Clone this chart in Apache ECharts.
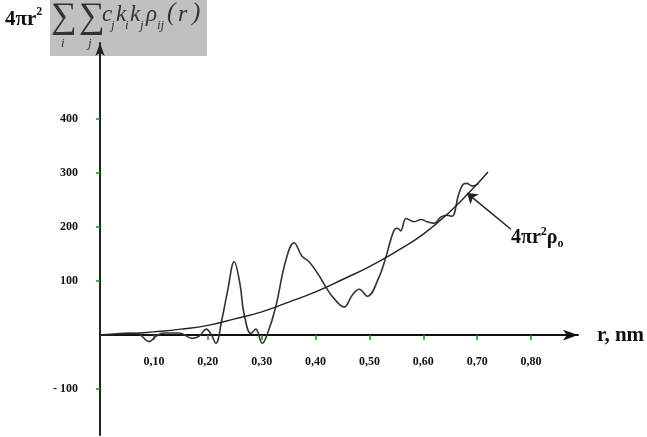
<!DOCTYPE html>
<html><head><meta charset="utf-8">
<script src="https://cdn.jsdelivr.net/npm/echarts@6/dist/echarts.min.js"></script>
<style>html,body{margin:0;padding:0;background:#fff}#c{width:647px;height:437px}</style>
</head><body><div id="c"></div>
<script>
// r, nm (x) and value (y) of the smooth 4πr²ρo curve
const rhoR = [0, 0.05, 0.10, 0.15, 0.20, 0.25, 0.30, 0.35, 0.40, 0.45, 0.50, 0.55, 0.60, 0.65, 0.70, 0.72];
const rhoV = [0, 2, 6, 11, 18, 30, 43, 61, 80, 103, 127, 155, 187, 229, 280, 302];
// r and value of the oscillating curve
const gR = [0, 0.026, 0.054, 0.072, 0.091, 0.104, 0.119, 0.147, 0.171, 0.184, 0.197, 0.206, 0.215, 0.226, 0.237, 0.249, 0.260, 0.267, 0.280, 0.289, 0.301, 0.313, 0.326, 0.345, 0.360, 0.375, 0.388, 0.406, 0.419, 0.434, 0.453, 0.468, 0.481, 0.496, 0.518, 0.530, 0.545, 0.552, 0.558, 0.568, 0.583, 0.596, 0.607, 0.620, 0.633, 0.644, 0.653, 0.666, 0.675, 0.681, 0.691, 0.703];
const gV = [0, 2, 4, 2, -12, -2, 4, 4, -6, -2, 11, 2, -15, 28, 83, 136, 93, 41, 3, 11, -15, 9, 52, 139, 171, 146, 136, 111, 89, 68, 52, 74, 85, 72, 108, 143, 193, 198, 193, 216, 210, 214, 210, 207, 219, 222, 220, 262, 280, 281, 276, 281];
// tick values
const xTicks = [0.1, 0.2, 0.3, 0.4, 0.5, 0.6, 0.7, 0.8];
const yTicks = [-100, 100, 200, 300, 400];
// annotation arrow (data coordinates): from label to curve
const arrowFrom = [0.7625, 196];
const arrowTo = [0.681, 263];

const serif = '"Liberation Serif", "Times New Roman", serif';
const green = '#08a008';
const Y_MIN = -185, Y_MAX = 541, GRID_TOP = 43, GRID_BOTTOM = 2, H = 437;
const plotH = H - GRID_TOP - GRID_BOTTOM;
// move the x axis from the grid bottom up to the value 0
const xOffset = -plotH * (0 - Y_MIN) / (Y_MAX - Y_MIN);

const chart = echarts.init(document.getElementById('c'));
const it = (t, x, y, size) => ({type: 'text', x, y, style: {text: t, font: 'italic ' + size + 'px ' + serif, fill: '#333'}});
chart.setOption({
  animation: false,
  grid: {left: 100, right: 69, top: GRID_TOP, bottom: GRID_BOTTOM, containLabel: false, outerBoundsMode: 'none'},
  xAxis: {
    type: 'value', min: 0, max: 0.887, position: 'bottom', offset: xOffset,
    axisLine: {onZero: false, symbol: ['none', 'arrow'], symbolSize: [8, 15], lineStyle: {color: '#111', width: 2}},
    axisTick: {customValues: xTicks, length: 5, lineStyle: {color: green, width: 1.5}},
    axisLabel: {customValues: xTicks, margin: 21, fontFamily: serif, fontWeight: 'bold', fontSize: 12, color: '#111',
      formatter: v => v.toFixed(2).replace('.', ',')},
    splitLine: {show: false},
    name: 'r, nm', nameLocation: 'end', nameGap: 19,
    nameTextStyle: {fontFamily: serif, fontWeight: 'bold', fontSize: 21, color: '#111', verticalAlign: 'middle'}
  },
  yAxis: {
    type: 'value', min: Y_MIN, max: Y_MAX,
    axisLine: {show: true, onZero: false, symbol: ['none', 'arrow'], symbolSize: [7, 13], lineStyle: {color: '#222', width: 2}},
    axisTick: {show: true, customValues: yTicks, length: 4, lineStyle: {color: green, width: 1.5}},
    axisLabel: {customValues: yTicks, margin: 22, fontFamily: serif, fontWeight: 'bold', fontSize: 12, color: '#111',
      formatter: v => v < 0 ? '- ' + Math.abs(v) : String(v)},
    splitLine: {show: false}
  },
  series: [
    {type: 'line', data: gR.map((r, i) => [r, gV[i]]), showSymbol: false, smooth: 0.4,
      lineStyle: {color: '#333', width: 1.6}},
    {type: 'line', data: rhoR.map((r, i) => [r, rhoV[i]]), showSymbol: false, smooth: true,
      lineStyle: {color: '#222', width: 1.4},
      markLine: {silent: true, symbol: ['none', 'arrow'], symbolSize: 10, label: {show: false},
        lineStyle: {color: '#222', width: 1.5, type: 'solid'},
        data: [[{coord: arrowFrom}, {coord: arrowTo}]]}}
  ],
  graphic: [
    {type: 'rect', z: -10, shape: {x: 50, y: 0, width: 157, height: 56}, style: {fill: '#c0c0c0'}},
    {type: 'text', x: 5, y: 6, style: {
      text: '{m|4πr}{p|2}',
      rich: {
        m: {fontFamily: serif, fontWeight: 'bold', fontSize: 21, lineHeight: 24, verticalAlign: 'bottom', fill: '#111'},
        p: {fontFamily: serif, fontWeight: 'bold', fontSize: 12, lineHeight: 24, verticalAlign: 'top', fill: '#111'}
      }}},
    {type: 'text', x: 51, y: 0, style: {text: '∑', font: '36px ' + serif, fill: '#333'}},
    {type: 'text', x: 79, y: 0, style: {text: '∑', font: '36px ' + serif, fill: '#333'}},
    it('i', 61, 37, 13), it('j', 88, 37, 13),
    it('c', 102, 3, 23), it('j', 111, 19, 13),
    it('k', 116, 3, 23), it('i', 125, 19, 13),
    it('k', 130, 3, 23), it('j', 140, 19, 13),
    it('ρ', 146, 3, 23), it('ij', 157, 19, 13),
    it('(', 167, 1, 25), it('r', 178, 3, 24), it(')', 192, 1, 25),
    {type: 'text', x: 511, y: 226, style: {
      text: '{m|4πr}{p|2}{m|ρ}{s|o}',
      rich: {
        m: {fontFamily: serif, fontWeight: 'bold', fontSize: 20, lineHeight: 24, verticalAlign: 'middle', fill: '#111'},
        p: {fontFamily: serif, fontWeight: 'bold', fontSize: 12, lineHeight: 24, verticalAlign: 'top', fill: '#111'},
        s: {fontFamily: serif, fontWeight: 'bold', fontSize: 12, lineHeight: 24, verticalAlign: 'bottom', fill: '#111'}
      }}}
  ]
});
</script></body></html>
